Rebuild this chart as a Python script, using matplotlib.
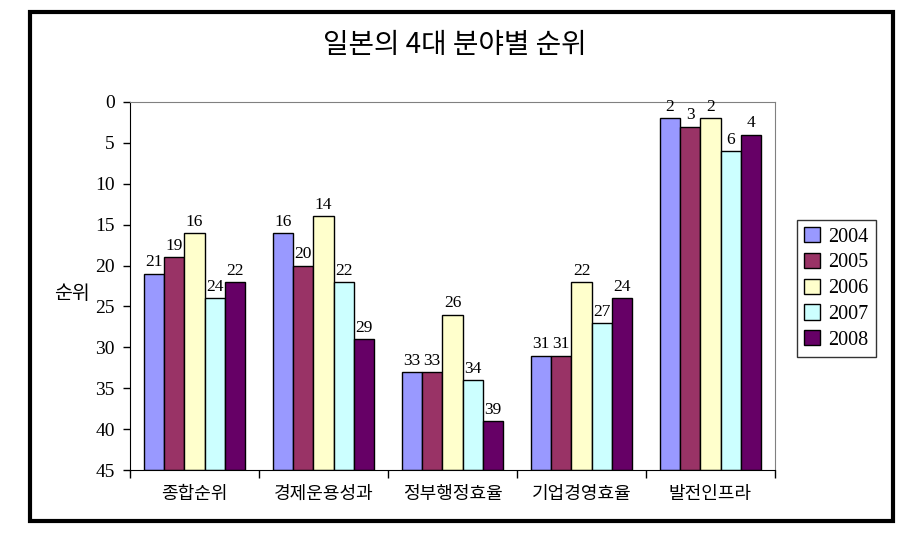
import matplotlib
matplotlib.use("Agg")
import matplotlib.pyplot as plt
import numpy as np
from matplotlib.patches import Rectangle

plt.rcParams['font.family'] = ['Liberation Serif', 'Noto Sans CJK KR']

categories = ['종합순위', '경제운용성과', '정부행정효율', '기업경영효율', '발전인프라']
years = ['2004', '2005', '2006', '2007', '2008']
v2004 = [21, 16, 33, 31, 2]
v2005 = [19, 20, 33, 31, 3]
v2006 = [16, 14, 26, 22, 2]
v2007 = [24, 22, 34, 27, 6]
v2008 = [22, 29, 39, 24, 4]
series = [v2004, v2005, v2006, v2007, v2008]
colors = ['#9999FF', '#993366', '#FFFFCC', '#CCFFFF', '#660066']
yticks = [0, 5, 10, 15, 20, 25, 30, 35, 40, 45]

fig = plt.figure(figsize=(9.21, 5.55), dpi=100)
# outer frame
fig.patches.append(Rectangle((30/921, 1-521/555), (893-30)/921, (521-12)/555,
                             transform=fig.transFigure, fill=False,
                             edgecolor='black', linewidth=3))
ax = fig.add_axes([130/921, 1-470/555, (775-130)/921, (470-102)/555])

x = np.arange(len(categories))
w = 0.158
base = 45
for i, (vals, c, yr) in enumerate(zip(series, colors, years)):
    pos = x + (i - 2) * w
    heights = [v - base for v in vals]
    ax.bar(pos, heights, bottom=base, width=w, color=c,
           edgecolor='black', linewidth=1, label=yr)
    for p, v in zip(pos, vals):
        ax.text(p, v - 0.4, str(v), ha='center', va='bottom', fontsize=12.5)

ax.set_ylim(45, 0)
ax.set_yticks(yticks)
ax.set_yticklabels([str(t) for t in yticks], fontsize=14)
ax.set_xlim(-0.5, len(categories) - 0.5)
ax.set_xticks(np.arange(len(categories) + 1) - 0.5, minor=False)
ax.set_xticklabels([])
ax.set_xticks(x, minor=True)
ax.set_xticklabels(categories, minor=True, fontsize=13,
                   family=['Noto Sans CJK KR'])
ax.tick_params(axis='x', which='minor', length=0, pad=11)
ax.tick_params(axis='x', which='major', length=6, direction='out', width=1)
ax.tick_params(axis='y', length=5, direction='out', width=1, pad=6)
ax.spines['top'].set_color('#808080')
ax.spines['right'].set_color('#808080')
ax.spines['left'].set_color('black')
ax.spines['bottom'].set_color('black')

ax.set_ylabel('순위', rotation=0, fontsize=14, family=['Noto Sans CJK KR'])
ax.yaxis.set_label_coords(-0.062, 0.48)
ax.yaxis.label.set_ha('right')
ax.yaxis.label.set_va('center')

fig.text(455/921, 1-45/555, '일본의 4대 분야별 순위', ha='center', va='center',
         fontsize=20, family=['Noto Sans CJK KR'])

leg = fig.legend(loc='upper left', bbox_to_anchor=(797/921, 1-220/555),
                 fontsize=14.5, frameon=True, fancybox=False, edgecolor='black',
                 handlelength=0.8, handleheight=0.8, handletextpad=0.4,
                 labelspacing=0.3, borderpad=0.35, borderaxespad=0)
leg.get_frame().set_linewidth(1)

fig.savefig('out.png', dpi=100)
